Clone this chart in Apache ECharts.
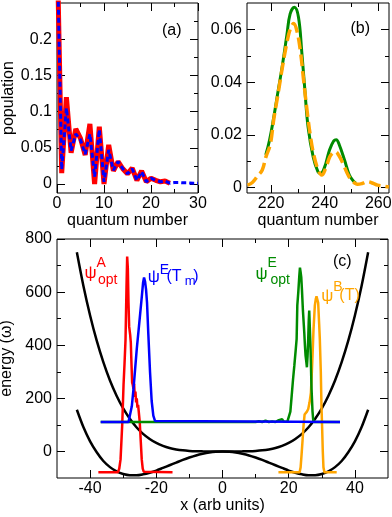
<!DOCTYPE html>
<html><head><meta charset="utf-8">
<script src="https://cdn.jsdelivr.net/npm/echarts@6/dist/echarts.min.js"></script>
<style>html,body{margin:0;padding:0;background:#fff}#c{width:392px;height:517px}</style>
</head><body><div id="c"></div>
<script>
const FONT = "'Liberation Sans', Arial, Helvetica, sans-serif";

// ---------- Panel (a) ----------
const quantumRed = [0,1,2,3,4,5,6,7,8,9,10,11,12,13,14,15,16,17,18,19,20,21,22,23,24];
const popRed = [0.34,0.015,0.12,0.043,0.076,0.063,0.04,0.083,0.0,0.079,0.0,0.054,0.018,0.031,0.021,0.014,0.022,0.005,0.018,0.003,0.008,0.005,0.003,0.004,0.001];
const quantumBlue = [0,1,2,3,4,5,6,7,8,9,10,11,12,13,14,15,16,17,18,19,20,21,22,23,24,25,26,27,28,29,30];
const popBlue = [0.34,0.02,0.105,0.046,0.069,0.061,0.041,0.069,0.01,0.075,0.003,0.047,0.019,0.031,0.021,0.014,0.021,0.005,0.017,0.003,0.008,0.005,0.003,0.004,0.001,0.002,0.002,0.0015,0.0015,0.001,0.001];
const ticksAX = [0,10,20,30], minorAX = [5,15,25];
const ticksAY = [0,0.05,0.1,0.15,0.2], minorAY = [0.025,0.075,0.125,0.175,0.225];

// ---------- Panel (b) ----------
const quantumGreen = [218,219.4,221,222.5,224.1,225.9,227.1,228.7,230.2,231.4,232.6,233.8,235.7,237.5,238.5,240,241.8,243.4,244.3,245.5,247.4,249.2,250.5,251.6];
const popGreen = [0.0124,0.018,0.0268,0.036,0.0457,0.058,0.0659,0.0684,0.0647,0.052,0.037,0.023,0.0117,0.006,0.0054,0.0079,0.0143,0.0178,0.0182,0.0161,0.0105,0.0048,0.0028,0.0017];
const quantumOrange = [211.2,213,215,216.7,218,219.7,221,222.5,224.1,225.9,227.1,228.4,229.6,230.9,232.1,233.4,234.6,235.8,237.4,238.9,240.4,241.9,243,244,245.3,246.8,248.4,249.9,251.2,252.3,254,256,258,259.7,262,264];
const popOrange = [0.001,0.002,0.0045,0.0067,0.0115,0.0165,0.026,0.035,0.045,0.055,0.06,0.0622,0.0595,0.052,0.041,0.0294,0.02,0.013,0.0072,0.0048,0.0075,0.0117,0.0132,0.0136,0.0122,0.0092,0.0055,0.0029,0.0018,0.0013,0.0016,0.0023,0.0017,0.001,0.0006,0.0003];
const ticksBX = [220,240,260], minorBX = [230,250];
const ticksBY = [0,0.02,0.04,0.06], minorBY = [0.01,0.03,0.05];

// ---------- Panel (c) ----------
const xPotUpper = [-44,-42,-40,-38,-36,-34,-32,-30,-28,-26,-24,-22,-20,-18,-16,-14,-12,-10,-8,-6,-4,-2,0,2,4,6,8,10,12,14,16,18,20,22,24,26,28,30,32,34,36,38,40,42,44];
const ePotUpper = [750,622,512,417,336,267,210,162,123,91,66,47,32,21,13,7.7,4.1,2,0.8,0.3,0.05,0,0,0,0.05,0.3,0.8,2,4.1,7.7,13,21,32,47,66,91,123,162,210,267,336,417,512,622,750];
const xPotLower = [-44,-42,-40,-38,-36,-34,-32,-30,-28,-26,-24,-22,-20,-18,-16,-14,-12,-10,-8,-6,-4,-2,0,2,4,6,8,10,12,14,16,18,20,22,24,26,28,30,32,34,36,38,40,42,44];
const ePotLower = [157,91,38,-3,-36,-59,-75,-85,-89.5,-89.5,-86,-80,-72,-62,-52,-42,-32,-23,-15,-8.7,-3.9,-1,0,-1,-3.9,-8.7,-15,-23,-32,-42,-52,-62,-72,-80,-86,-89.5,-89.5,-85,-75,-59,-36,-3,38,91,157];
const xPsiAopt = [-37.5,-31.6,-31.2,-30.8,-30.3,-29.9,-29.6,-29.3,-29.0,-28.8,-28.6,-28.4,-28.2,-27.9,-27.7,-27.5,-27.3,-27.1,-26.9,-26.7,-26.5,-26.3,-26.1,-25.9,-25.7,-25.5,-25.3,-25.0,-24.7,-24.4,-24.1,-23.8,-23.5,-15.1];
const ePsiAopt = [-78,-78,-65,-30,100,250,330,420,620,734,690,560,470,440,410,330,260,250,235,255,205,225,185,200,165,175,150,110,40,-30,-65,-76,-78,-78];
const xPsiETm = [-36.8,-28.4,-27.9,-27.4,-26.9,-26.4,-25.9,-25.4,-24.9,-24.4,-24.0,-23.7,-23.4,-23.1,-22.8,-22.4,-21.9,-21.4,-20.9,-20.4,-19.8,35.5];
const ePsiETm = [111,111,118,170,234,310,386,450,515,580,635,655,640,610,560,440,300,190,135,115,111,111];
const xPsiEopt = [-36.8,10,11,12,13,14,15,16,17,17.5,18,18.5,19,19.6,20.2,20.5,20.9,21.3,21.7,22.1,22.4,22.6,22.9,23.2,23.4,23.6,23.8,24.0,24.3,24.7,24.9,25.1,25.3,25.5,25.7,25.9,26.05,26.2,26.4,26.6,26.9,27.2,27.4,27.6,35.5];
const ePsiEopt = [111,111,114,111,116,111,113,111,118,112,121,113,117,112,118,150,209,270,323,380,424,550,600,660,692,675,655,610,530,449,400,361,340,317,360,424,490,531,460,386,234,150,120,111,111];
const xPsiBT = [16.9,23.3,23.6,23.9,24.2,24.5,24.8,25.1,25.5,25.9,26.3,26.7,27.0,27.2,27.5,27.9,28.2,28.4,28.7,28.9,29.2,29.4,29.7,29.9,30.1,30.3,30.5,30.8,34.5];
const ePsiBT = [-78,-78,-60,-10,44,100,139,145,150,160,185,220,300,360,460,550,575,584,578,560,480,424,300,171,90,0,-60,-78,-78];
const ticksCX = [-40,-20,0,20,40], minorCX = [-30,-10,10,30];
const ticksCY = [0,200,400,600,800], minorCY = [100,300,500,700];

const zip = (xs, ys) => xs.map((x, i) => [x, ys[i]]);
const fmt = v => String(+(+v).toFixed(4));

function axisSet(dim, gi, min, max, majors, minors, name, nameGap) {
  const posA = dim === 'x' ? 'bottom' : 'left';
  const posB = dim === 'x' ? 'top' : 'right';
  const base = (pos, vals, len, labels) => ({
    type: 'value', gridIndex: gi, position: pos, min: min, max: max,
    axisLine: { show: false, onZero: false },
    splitLine: { show: false },
    axisTick: { show: true, inside: true, length: len, customValues: vals, lineStyle: { color: '#000', width: 1 } },
    axisLabel: { show: labels, customValues: vals, formatter: fmt, fontSize: 16, color: '#000', fontFamily: FONT, margin: dim === 'x' ? 3 : 5 }
  });
  const main = base(posA, majors, 8, true);
  main.name = name; main.nameLocation = 'middle'; main.nameGap = nameGap;
  main.nameTextStyle = { fontSize: 16, color: '#000', fontFamily: FONT };
  return [main, base(posB, majors, 8, false), base(posA, minors, 4, false), base(posB, minors, 4, false)];
}

const xAxes = [].concat(
  axisSet('x', 0, 0, 30, ticksAX, minorAX, 'quantum number', 20),
  axisSet('x', 1, 211, 264, ticksBX, minorBX, 'quantum number', 20),
  axisSet('x', 2, -50, 50, ticksCX, minorCX, 'x (arb units)', 19)
);
const yAxes = [].concat(
  axisSet('y', 0, -0.0125, 0.25, ticksAY, minorAY, 'population', 38),
  axisSet('y', 1, -0.002, 0.07, ticksBY, minorBY, '', 30),
  axisSet('y', 2, -100, 800, ticksCY, minorCY, 'energy (\u03c9)', 37)
);

function line(gi, data, color, width, dash, smooth) {
  return {
    type: 'line', xAxisIndex: gi * 4, yAxisIndex: gi * 4, data: data,
    showSymbol: false, symbol: 'none', smooth: smooth || false, clip: true,
    lineStyle: { color: color, width: width, type: dash || 'solid' }
  };
}

const RED = '#ff0000', BLUE = '#0000ff', GREEN = '#008b00', ORANGE = '#ffa500';

const series = [
  line(0, zip(quantumRed, popRed), RED, 5),
  line(0, zip(quantumBlue, popBlue), BLUE, 3, [5, 3]),
  line(1, zip(quantumGreen, popGreen), GREEN, 3, null, 0.4),
  line(1, zip(quantumOrange, popOrange), ORANGE, 3.5, [12, 5], 0.4),
  line(2, zip(xPotUpper, ePotUpper), '#000', 2.5, null, 0.3),
  line(2, zip(xPotLower, ePotLower), '#000', 2.5, null, 0.3),
  line(2, zip(xPsiAopt, ePsiAopt), RED, 2.5),
  line(2, zip(xPsiBT, ePsiBT), ORANGE, 2.5),
  line(2, zip(xPsiEopt, ePsiEopt), GREEN, 2.5),
  line(2, zip(xPsiETm, ePsiETm), BLUE, 2.5)
];

function txt(s, x, y, size, color) {
  return { type: 'text', x: x, y: y, z: 100,
    style: { text: s, fontSize: size, fontFamily: FONT, fill: color, align: 'left', verticalAlign: 'middle' } };
}

const graphic = [
  txt('(a)', 162, 30.5, 16, '#000'),
  txt('(b)', 350.5, 28.5, 16, '#000'),
  txt('(c)', 333, 262, 16, '#000'),
  txt('\u03c8', 84.5, 273.5, 17, RED), txt('A', 96.5, 263, 14, RED), txt('opt', 98, 280, 14, RED),
  txt('\u03c8', 147.8, 277, 17, BLUE), txt('E', 159.8, 270.5, 14, BLUE), txt('(T', 166.5, 277, 16, BLUE),
  txt('m', 184.8, 281.5, 13, BLUE), txt(')', 193.3, 277, 16, BLUE),
  txt('\u03c8', 255.5, 274, 17, GREEN), txt('E', 267.5, 263.5, 14, GREEN), txt('opt', 270.5, 280, 14, GREEN),
  txt('\u03c8', 321.2, 296, 17, ORANGE), txt('B', 333.2, 286.7, 14, ORANGE), txt('(T)', 339.3, 295.5, 16, ORANGE)
];

const chart = echarts.init(document.getElementById('c'), null, { renderer: 'canvas', width: 392, height: 517 });
chart.setOption({
  animation: false,
  backgroundColor: '#fff',
  grid: [
    { left: 57, top: 3, width: 141, height: 190, show: true, borderColor: '#000', borderWidth: 1, backgroundColor: 'transparent', containLabel: false, outerBoundsMode: 'none' },
    { left: 247, top: 3, width: 142, height: 190, show: true, borderColor: '#000', borderWidth: 1, backgroundColor: 'transparent', containLabel: false, outerBoundsMode: 'none' },
    { left: 57, top: 239, width: 331, height: 239, show: true, borderColor: '#000', borderWidth: 1, backgroundColor: 'transparent', containLabel: false, outerBoundsMode: 'none' }
  ],
  xAxis: xAxes,
  yAxis: yAxes,
  series: series,
  graphic: graphic
});
</script></body></html>
